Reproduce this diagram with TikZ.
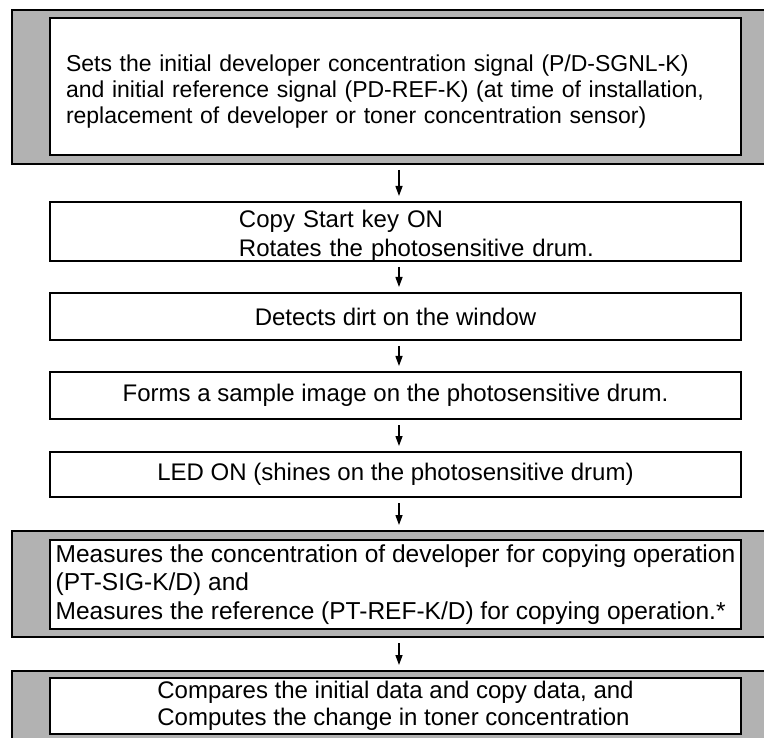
\documentclass[tikz,border=0pt]{standalone}
\usepackage{fontspec}
\setmainfont{Liberation Sans}
\usetikzlibrary{arrows.meta}
\newcommand{\startindent}{\hspace*{189pt}}
\newcommand{\raisestrut}[1]{\rule{0pt}{#1}}
\tikzset{
  stepbox/.style={draw, line width=2pt, fill=white, minimum width=691pt, inner sep=0pt,
    font=\fontsize{24}{28}\selectfont},
  shadebox/.style={draw, line width=2pt, fill=black!30, minimum width=778pt, inner sep=0pt},
  flow/.style={-{Triangle[length=10pt,width=7pt]}, line width=1.3pt, shorten <=5pt, shorten >=5pt}
}
\begin{document}
\begin{tikzpicture}[x=1pt,y=-1pt]
\useasboundingbox (0,0) rectangle (764,738);
% grey frames
\node[shadebox, minimum height=154pt] (f1) at (401,87) {};
\node[shadebox, minimum height=106pt] (f6) at (401,584) {};
\node[shadebox, minimum height=89pt] (f7) at (401,715.5) {};
% steps
\node[stepbox, minimum height=137pt, text width=659pt, inner xsep=16pt, align=left,
  font=\fontsize{23}{26}\selectfont] (init) at (395.5,86.5)
  {\raisestrut{25.8pt}Sets the initial developer concentration signal (P/D-SGNL-K)\\
   and initial reference signal (PD-REF-K) (at time of installation,\\
   replacement of developer or toner concentration sensor)};
\node[stepbox, minimum height=59pt, text width=691pt, align=left,
  font=\fontsize{24}{29}\selectfont] (start) at (395.5,231.5)
  {\startindent\raisestrut{25pt}Copy Start key ON\\\startindent Rotates the photosensitive drum.};
\node[stepbox, minimum height=47pt] (dirt) at (395.5,316.5) {Detects dirt on the window};
\node[stepbox, minimum height=47pt] (sample) at (395.5,395.5) {Forms a sample image on the photosensitive drum.};
\node[stepbox, minimum height=45pt] (led) at (395.5,474.5) {LED ON (shines on the photosensitive drum)};
\node[stepbox, minimum height=89pt, align=left,
  font=\fontsize{24.5}{28.5}\selectfont] (measure) at (395.5,584.5)
  {Measures the concentration of developer for copying operation\\
   (PT-SIG-K/D) and\\
   Measures the reference (PT-REF-K/D) for copying operation.*};
\node[stepbox, minimum height=56pt, align=left,
  font=\fontsize{24}{26.5}\selectfont] (compare) at (395.5,706)
  {Compares the initial data and copy data, and\\
   Computes the change in toner concentration};
% arrows
\coordinate (col) at (399,0);
\draw[flow] (f1.south -| col) -- (start.north -| col);
\draw[flow] (start.south -| col) -- (dirt.north -| col);
\draw[flow] (dirt.south -| col) -- (sample.north -| col);
\draw[flow] (sample.south -| col) -- (led.north -| col);
\draw[flow] (led.south -| col) -- (f6.north -| col);
\draw[flow] (f6.south -| col) -- (f7.north -| col);
\end{tikzpicture}
\end{document}
